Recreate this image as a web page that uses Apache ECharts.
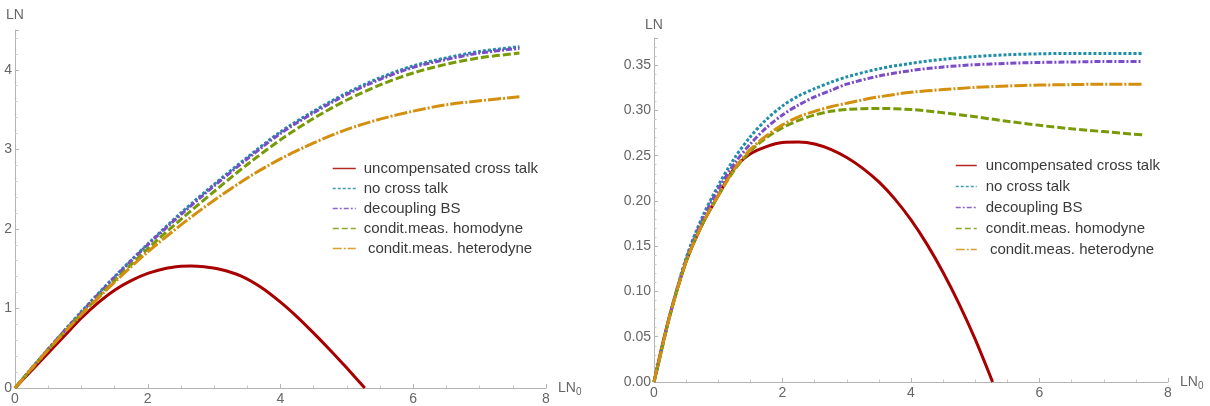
<!DOCTYPE html>
<html><head><meta charset="utf-8">
<script src="https://cdn.jsdelivr.net/npm/echarts@6/dist/echarts.min.js"></script>
<style>html,body{margin:0;padding:0;background:#fff}#c{width:1210px;height:406px}</style>
</head><body><div id="c"></div><script>
// ---- data ----
const seriesNames = ['uncompensated cross talk', 'no cross talk', 'decoupling BS', 'condit.meas. homodyne', ' condit.meas. heterodyne'];

// left panel
const xLeft = [0, 0.5, 1, 1.5, 2, 2.5, 3, 3.5, 4, 4.5, 5, 5.5, 6, 6.5, 7, 7.6];
const leftNoCross   = [0, 0.49, 0.96, 1.40, 1.81, 2.20, 2.56, 2.90, 3.22, 3.48, 3.71, 3.90, 4.05, 4.15, 4.23, 4.29];
const leftDecoupl   = [0, 0.49, 0.95, 1.39, 1.80, 2.18, 2.54, 2.88, 3.20, 3.46, 3.69, 3.88, 4.03, 4.13, 4.21, 4.27];
const leftHomodyne  = [0, 0.48, 0.93, 1.35, 1.75, 2.12, 2.47, 2.81, 3.12, 3.39, 3.62, 3.81, 3.96, 4.07, 4.15, 4.21];
const leftHeterodyne= [0, 0.48, 0.92, 1.33, 1.71, 2.05, 2.36, 2.64, 2.88, 3.08, 3.25, 3.38, 3.48, 3.56, 3.61, 3.66];
const xLeftRed = [0, 0.25, 0.5, 0.75, 1, 1.25, 1.5, 1.75, 2, 2.25, 2.5, 2.65, 2.85, 3.1, 3.4, 3.7, 4, 4.25, 4.5, 4.75, 5, 5.27];
const leftUncomp = [0, 0.22, 0.44, 0.66, 0.88, 1.07, 1.23, 1.35, 1.44, 1.50, 1.53, 1.535, 1.525, 1.49, 1.41, 1.27, 1.08, 0.895, 0.69, 0.475, 0.25, 0];

// right panel
const xRight = [0, 0.1, 0.25, 0.5, 0.75, 1, 1.25, 1.5, 1.75, 2, 2.25, 2.5, 2.75, 3, 3.5, 4, 4.5, 5, 5.5, 6, 6.5, 7, 7.6];
const rightNoCross    = [0, 0.030, 0.075, 0.137, 0.182, 0.217, 0.247, 0.271, 0.290, 0.305, 0.316, 0.324, 0.331, 0.337, 0.346, 0.352, 0.3565, 0.3595, 0.3615, 0.3625, 0.363, 0.363, 0.363];
const rightDecoupl    = [0, 0.030, 0.074, 0.135, 0.179, 0.213, 0.241, 0.263, 0.281, 0.295, 0.306, 0.315, 0.322, 0.329, 0.338, 0.344, 0.348, 0.3505, 0.352, 0.353, 0.3535, 0.354, 0.354];
const rightHomodyne   = [0, 0.030, 0.074, 0.133, 0.174, 0.206, 0.234, 0.255, 0.270, 0.281, 0.289, 0.295, 0.299, 0.301, 0.3022, 0.301, 0.2975, 0.2930, 0.2880, 0.2835, 0.2797, 0.2766, 0.273];
const rightHeterodyne = [0, 0.030, 0.074, 0.133, 0.174, 0.206, 0.235, 0.257, 0.272, 0.284, 0.293, 0.299, 0.304, 0.308, 0.315, 0.320, 0.323, 0.3255, 0.327, 0.328, 0.3285, 0.329, 0.329];
const xRightRed = [0, 0.1, 0.25, 0.5, 0.75, 1, 1.25, 1.5, 1.75, 2, 2.25, 2.5, 2.75, 3, 3.25, 3.5, 3.75, 4, 4.25, 4.5, 4.75, 5, 5.27];
const rightUncomp = [0, 0.032, 0.075, 0.133, 0.174, 0.206, 0.236, 0.252, 0.260, 0.2645, 0.265, 0.263, 0.257, 0.248, 0.236, 0.221, 0.202, 0.179, 0.152, 0.121, 0.086, 0.047, 0];

// tick settings
const xTicks = {min: 0, max: 8, interval: 2};
const yLeftTicks = {min: 0, max: 4.5, interval: 1};
const yRightTicks = {min: 0, max: 0.38, interval: 0.05};

// ---- styles ----
const colors = ['#a80000', '#1f8ea6', '#7a4cc6', '#789a06', '#d48f0e'];
const dashes = ['solid', [3, 2], [6, 2, 2, 2], [8, 3], [13, 2, 2, 2]];
const legendDashes = ['solid', [3, 2], [5, 2, 2, 2], [6, 3], [9, 2, 2, 2]];

const zip = (xs, ys) => xs.map((x, i) => [x, ys[i]]);

const axisGray = '#b4b4b4';
function xAxisCfg(gridIndex) {
  return {
    type: 'value', gridIndex, ...xTicks,
    axisLine: {show: true, lineStyle: {color: axisGray}},
    axisTick: {show: true, inside: true, length: 4, lineStyle: {color: axisGray}},
    minorTick: {show: true, splitNumber: 4, length: 2.5, lineStyle: {color: '#c8c8c8'}},
    splitLine: {show: false},
    axisLabel: {color: '#666', fontSize: 14, margin: 4, fontFamily: 'Liberation Sans'},
    name: '{a|LN}{b|0}', nameLocation: 'end', nameGap: 12,
    nameTextStyle: {rich: {
      a: {fontSize: 14, color: '#666', fontFamily: 'Liberation Sans'},
      b: {fontSize: 10, color: '#666', fontFamily: 'Liberation Sans', verticalAlign: 'bottom', padding: [8, 0, 0, 0]}
    }}
  };
}
function yAxisCfg(gridIndex, ticks, fmt, gap) {
  return {
    type: 'value', gridIndex, ...ticks,
    axisLine: {show: true, lineStyle: {color: axisGray}},
    axisTick: {show: true, inside: true, length: 4, lineStyle: {color: axisGray}},
    minorTick: {show: true, splitNumber: 5, length: 2.5, lineStyle: {color: '#c8c8c8'}},
    splitLine: {show: false},
    axisLabel: {color: '#666', fontSize: 14, margin: 3, showMaxLabel: false, fontFamily: 'Liberation Sans', formatter: fmt},
    name: 'LN', nameLocation: 'end', nameGap: gap,
    nameTextStyle: {color: '#666', fontSize: 14, fontFamily: 'Liberation Sans', align: 'center'}
  };
}

function mkSeries(i, xi, yi, data) {
  return {
    name: seriesNames[i], type: 'line', xAxisIndex: xi, yAxisIndex: yi,
    data, symbol: 'none', smooth: 0.3, clip: true,
    lineStyle: {color: colors[i], width: 3, type: dashes[i]},
    itemStyle: {color: colors[i]},
    animation: false, silent: true, z: 2 + i
  };
}

function legendCfg(left, top, itemWidth, gap, textPad) {
  return {
    left, top, orient: 'vertical', selectedMode: false, padding: 0,
    itemWidth, itemHeight: 12, itemGap: gap,
    itemStyle: {opacity: 0},
    textStyle: {color: '#3a3a3a', fontSize: 15, fontFamily: 'Liberation Sans', padding: [0, 0, 0, textPad]},
    data: seriesNames.map((n, i) => ({
      name: n,
      itemStyle: {opacity: 0},
      lineStyle: {color: colors[i], width: 1.5, type: legendDashes[i], opacity: 0.85}
    }))
  };
}

const chart = echarts.init(document.getElementById('c'), null, {renderer: 'canvas'});
chart.setOption({
  backgroundColor: '#fff',
  animation: false,
  grid: [
    {left: 15, top: 30, width: 531, height: 358},
    {left: 654, top: 38, width: 514, height: 344}
  ],
  xAxis: [xAxisCfg(0), xAxisCfg(1)],
  yAxis: [
    yAxisCfg(0, yLeftTicks, v => String(v), 8),
    yAxisCfg(1, yRightTicks, v => v.toFixed(2), 6)
  ],
  legend: [legendCfg(332, 161, 23, 5, 3), legendCfg(955, 158, 21, 6, 4)],
  series: [
    mkSeries(0, 0, 0, zip(xLeftRed, leftUncomp)),
    mkSeries(1, 0, 0, zip(xLeft, leftNoCross)),
    mkSeries(2, 0, 0, zip(xLeft, leftDecoupl)),
    mkSeries(3, 0, 0, zip(xLeft, leftHomodyne)),
    mkSeries(4, 0, 0, zip(xLeft, leftHeterodyne)),
    mkSeries(0, 1, 1, zip(xRightRed, rightUncomp)),
    mkSeries(1, 1, 1, zip(xRight, rightNoCross)),
    mkSeries(2, 1, 1, zip(xRight, rightDecoupl)),
    mkSeries(3, 1, 1, zip(xRight, rightHomodyne)),
    mkSeries(4, 1, 1, zip(xRight, rightHeterodyne))
  ]
});
</script></body></html>
